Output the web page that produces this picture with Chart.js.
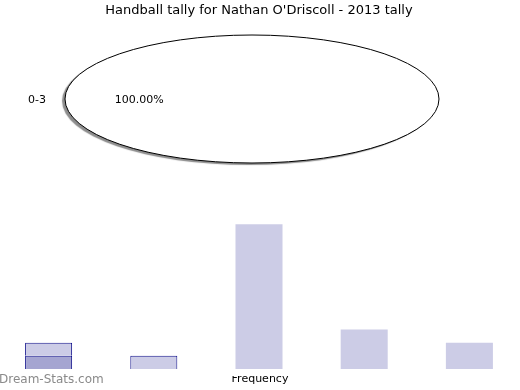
<!DOCTYPE html>
<html>
<head>
<meta charset="utf-8">
<script src="https://cdn.jsdelivr.net/npm/chart.js@4.4.0/dist/chart.umd.min.js"></script>
<style>
  html, body { margin: 0; padding: 0; background: #fff; overflow: hidden; width: 520px; height: 390px; }
  #pie-wrap { position: absolute; left: 0; top: 0; width: 520px; height: 200px; }
  #bar-wrap { position: absolute; left: -4px; top: 200px; width: 526px; height: 190px; }
  .note { position: absolute; font-family: 'DejaVu Sans', sans-serif; white-space: nowrap; }
  #title { left: 0; width: 518px; top: 2px; text-align: center; font-size: 13px; color: #000; }
  #freq { left: 200px; width: 120px; top: 376px; height: 10px; overflow: hidden; text-align: center; font-size: 11px; color: #000; }
  #freq span { position: relative; top: -4px; }
  #brand { left: -1px; top: 372px; font-size: 12px; color: #8a8a8a; }
</style>
</head>
<body>
<div id="pie-wrap"><canvas id="pie-chart"></canvas></div>
<div id="bar-wrap"><canvas id="bar-chart"></canvas></div>
<div id="title" class="note"></div>
<div id="freq" class="note"><span>Frequency</span></div>
<div id="brand" class="note">Dream-Stats.com</div>
<script>
var titleText = "Handball tally for Nathan O'Driscoll - 2013 tally";

// pie data
var pieLabels = ['0-3'];
var pieValues = [1];

// bar data
var barCategories = ['1', '2', '3', '4', '5'];
var totalValues = [2, 1, 11, 3, 2];
var highlightValues = [1, 0, 0, 0, 0];
var outlined = [true, true, false, false, false];

var PIE_STRETCH_X = 3.74;
var PIE_STRETCH_Y = 1.28;

const ellipsePie = {
  id: 'ellipsePie',
  beforeDatasetsDraw(chart) {
    const arc = chart.getDatasetMeta(0).data[0];
    const ctx = chart.ctx;
    ctx.save();
    ctx.translate(arc.x, arc.y);
    ctx.scale(PIE_STRETCH_X, PIE_STRETCH_Y);
    ctx.translate(-arc.x, -arc.y);
    ctx.shadowColor = 'rgba(0,0,0,0.45)';
    ctx.shadowOffsetX = -3;
    ctx.shadowOffsetY = 2;
    ctx.shadowBlur = 1;
  },
  afterDatasetsDraw(chart) {
    const arc = chart.getDatasetMeta(0).data[0];
    const ctx = chart.ctx;
    ctx.beginPath();
    ctx.arc(arc.x, arc.y, arc.outerRadius, 0, Math.PI * 2);
    ctx.restore();
    ctx.lineWidth = 1;
    ctx.strokeStyle = '#000';
    ctx.stroke();

    let total = pieValues.reduce((a, b) => a + b, 0);
    let rx = arc.outerRadius * PIE_STRETCH_X;
    ctx.save();
    ctx.font = '11px "DejaVu Sans"';
    ctx.fillStyle = '#000';
    ctx.textAlign = 'center';
    ctx.textBaseline = 'middle';
    ctx.fillText(pieLabels[0], arc.x - rx * 1.15, arc.y + 1);
    ctx.fillText((pieValues[0] / total * 100).toFixed(2) + '%', arc.x - rx * 0.603, arc.y + 1);
    ctx.restore();
  }
};

function pieChart(id) {
  const ctx = document.getElementById(id);
  return new Chart(ctx, {
    type: 'pie',
    data: {
      labels: pieLabels,
      datasets: [{
        data: pieValues,
        backgroundColor: '#fff',
        borderWidth: 0,
        hoverOffset: 0,
        offset: 0,
        clip: false
      }]
    },
    options: {
      responsive: true,
      maintainAspectRatio: false,
      animation: false,
      layout: { padding: { left: 0, right: 16, top: 49, bottom: 51 } },
      plugins: {
        legend: { display: false },
        tooltip: { enabled: false },
        title: { display: false }
      }
    },
    plugins: [ellipsePie]
  });
}

function barChart(id) {
  const ctx = document.getElementById(id);
  let baseValues = totalValues.map((v, i) => v - highlightValues[i]);
  return new Chart(ctx, {
    type: 'bar',
    data: {
      labels: barCategories,
      datasets: [{
        data: highlightValues,
        backgroundColor: '#a5a5d1',
        borderColor: '#14148c',
        borderWidth: 1
      }, {
        data: baseValues,
        backgroundColor: '#ccccE6',
        borderColor: '#14148c',
        borderWidth: outlined.map(o => o ? 1 : 0)
      }]
    },
    options: {
      responsive: true,
      maintainAspectRatio: false,
      animation: false,
      layout: { padding: { left: 0, right: 0, top: 11, bottom: 21 } },
      datasets: { bar: { categoryPercentage: 1, barPercentage: 0.447 } },
      scales: {
        x: { display: false, stacked: true },
        y: { display: false, stacked: true, min: 0, max: 12 }
      },
      plugins: {
        legend: { display: false },
        tooltip: { enabled: false }
      }
    }
  });
}

document.getElementById('title').textContent = titleText;
pieChart('pie-chart');
barChart('bar-chart');
</script>
</body>
</html>
